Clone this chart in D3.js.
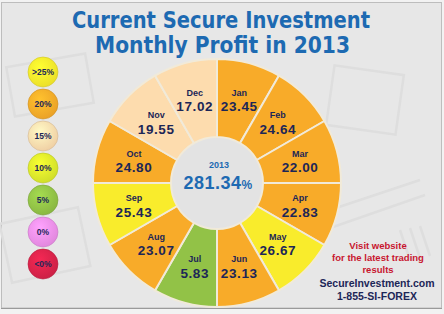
<!DOCTYPE html>
<html>
<head>
<meta charset="utf-8">
<script src="https://cdn.jsdelivr.net/npm/d3@7"></script>
<style>
  html, body { margin: 0; padding: 0; background: #f2f2f2; }
  svg { display: block; }
  text { font-family: "Liberation Sans", Arial, sans-serif; font-weight: bold; }
</style>
</head>
<body>
<div id="chart"></div>
<script>
// ---------------- DATA ----------------
const months = ["Jan", "Feb", "Mar", "Apr", "May", "Jun", "Jul", "Aug", "Sep", "Oct", "Nov", "Dec"];
const profits = [23.45, 24.64, 22.00, 22.83, 26.67, 23.13, 5.83, 23.07, 25.43, 24.80, 19.55, 17.02];
const totalLabel = "281.34";
const yearLabel = "2013";

const legendLabels = [">25%", "20%", "15%", "10%", "5%", "0%", "<0%"];
const legendColors = ["#f9ec2c", "#f8ab29", "#fddcae", "#dceb2c", "#92c247", "#ee90ea", "#d8234a"];
// thresholds that map a monthly profit to one of the legend colours (highest first)
const thresholds = [0, 5, 10, 15, 20, 25];

const titleLines = ["Current Secure Investment", "Monthly Profit in 2013"];
const noteLines = ["Visit website", "for the latest trading", "results"];
const contactLines = ["SecureInvestment.com", "1-855-SI-FOREX"];

// ---------------- SETUP ----------------
const width = 444, height = 314;
const cx = 217, cy = 183;
const rOuter = 124, rInner = 46, rLabel = 86;
const navy = "#1c2657", blue = "#1d6ab2";

const svg = d3.select("#chart").append("svg")
  .attr("width", width)
  .attr("height", height);

// frame
svg.append("rect")
  .attr("x", 1.5).attr("y", 2.5)
  .attr("width", 440).attr("height", 305.5)
  .attr("fill", "#e7e7e7")
  .attr("stroke", "#bdbdbd");
svg.append("line")
  .attr("x1", 1).attr("x2", 442).attr("y1", 308.5).attr("y2", 308.5)
  .attr("stroke", "#9a9a9a");

// faint watermark sketches in the background
const wm = svg.append("g").attr("fill", "none").attr("stroke", "#dedede").attr("stroke-width", 2.5);
wm.append("rect").attr("x", 10).attr("y", 60).attr("width", 80).attr("height", 50)
  .attr("transform", "rotate(-10 50 85)");
wm.append("rect").attr("x", 330).attr("y", 70).attr("width", 70).attr("height", 60)
  .attr("transform", "rotate(8 365 100)");
wm.append("path").attr("d", "M300,220 L420,180 M310,235 L425,195");
wm.append("path").attr("d", "M400,230 L410,260 M410,228 L420,258 M420,226 L430,256");
wm.append("rect").attr("x", 5).attr("y", 215).attr("width", 80).attr("height", 60)
  .attr("transform", "rotate(-12 45 245)");

// ---------------- TITLE ----------------
svg.append("g").selectAll("text")
  .data(titleLines)
  .join("text")
  .attr("x", (d, i) => i === 0 ? 221 : 222.5)
  .attr("y", (d, i) => 28 + i * 25)
  .attr("text-anchor", "middle")
  .attr("textLength", (d, i) => i === 0 ? 298 : 255)
  .attr("lengthAdjust", "spacingAndGlyphs")
  .attr("fill", blue)
  .style("font-family", "'DejaVu Sans', sans-serif")
  .style("font-size", "23px")
  .text(d => d);

// ---------------- LEGEND ----------------
const defs = svg.append("defs");
legendColors.forEach((c, i) => {
  const g = defs.append("radialGradient").attr("id", "lg" + i)
    .attr("cx", "40%").attr("cy", "35%").attr("r", "65%");
  g.append("stop").attr("offset", "0%").attr("stop-color", d3.color(c).brighter(0.35));
  g.append("stop").attr("offset", "100%").attr("stop-color", d3.color(c).darker(0.15));
});

const legendY = d3.scalePoint().domain(legendLabels).range([72, 264]);
const legend = svg.append("g").selectAll("g")
  .data(legendLabels)
  .join("g")
  .attr("transform", d => `translate(43,${legendY(d)})`);
legend.append("circle")
  .attr("r", 15)
  .attr("fill", (d, i) => `url(#lg${i})`)
  .attr("stroke", (d, i) => d3.color(legendColors[i]).darker(0.5))
  .attr("stroke-opacity", 0.6);
legend.append("text")
  .attr("text-anchor", "middle")
  .attr("y", 3)
  .attr("fill", navy)
  .style("font-size", "8.5px")
  .text(d => d);

// ---------------- DONUT ----------------
const color = d3.scaleThreshold()
  .domain(thresholds)
  .range(legendColors.slice().reverse());

const angle = d3.scaleBand()
  .domain(months)
  .range([0, 2 * Math.PI]);

const arc = d3.arc()
  .innerRadius(rInner)
  .outerRadius(rOuter)
  .startAngle(d => angle(d.month))
  .endAngle(d => angle(d.month) + angle.bandwidth());

const slices = months.map((m, i) => ({ month: m, value: profits[i] }));

const donut = svg.append("g").attr("transform", `translate(${cx},${cy})`);

donut.selectAll("path")
  .data(slices)
  .join("path")
  .attr("d", arc)
  .attr("fill", d => color(d.value))
  .attr("stroke", "#f1ead9")
  .attr("stroke-width", 2);

donut.append("circle")
  .attr("r", rInner - 1)
  .attr("fill", "#e3e3e3");

const labelPos = d => {
  const a = angle(d.month) + angle.bandwidth() / 2;
  return [rLabel * Math.sin(a), -rLabel * Math.cos(a)];
};

const labels = donut.selectAll("g.lbl")
  .data(slices)
  .join("g")
  .attr("class", "lbl")
  .attr("transform", d => `translate(${labelPos(d)})`)
  .attr("text-anchor", "middle")
  .attr("fill", navy);
labels.append("text")
  .attr("y", -4)
  .style("font-size", "9px")
  .text(d => d.month);
labels.append("text")
  .attr("y", 11.5)
  .style("font-size", "13.5px")
  .style("letter-spacing", "0.6px")
  .text(d => d.value.toFixed(2));

// centre total
donut.append("text")
  .attr("x", 2).attr("y", -15)
  .attr("text-anchor", "middle")
  .attr("fill", blue)
  .style("font-size", "9px")
  .text(yearLabel);
const total = donut.append("text")
  .attr("x", 1).attr("y", 5.5)
  .attr("text-anchor", "middle")
  .attr("fill", blue)
  .style("font-size", "18px")
  .style("letter-spacing", "0.5px");
total.append("tspan").text(totalLabel);
total.append("tspan").style("font-size", "12px").text("%");

// ---------------- NOTES ----------------
svg.append("g").selectAll("text")
  .data(noteLines)
  .join("text")
  .attr("x", 378)
  .attr("y", (d, i) => 249 + i * 11.8)
  .attr("text-anchor", "middle")
  .attr("fill", "#c8162f")
  .style("font-size", "9.5px")
  .text(d => d);

svg.append("g").selectAll("text")
  .data(contactLines)
  .join("text")
  .attr("x", 377)
  .attr("y", (d, i) => 287 + i * 13)
  .attr("text-anchor", "middle")
  .attr("fill", navy)
  .style("font-size", "10.5px")
  .text(d => d);
</script>
</body>
</html>
